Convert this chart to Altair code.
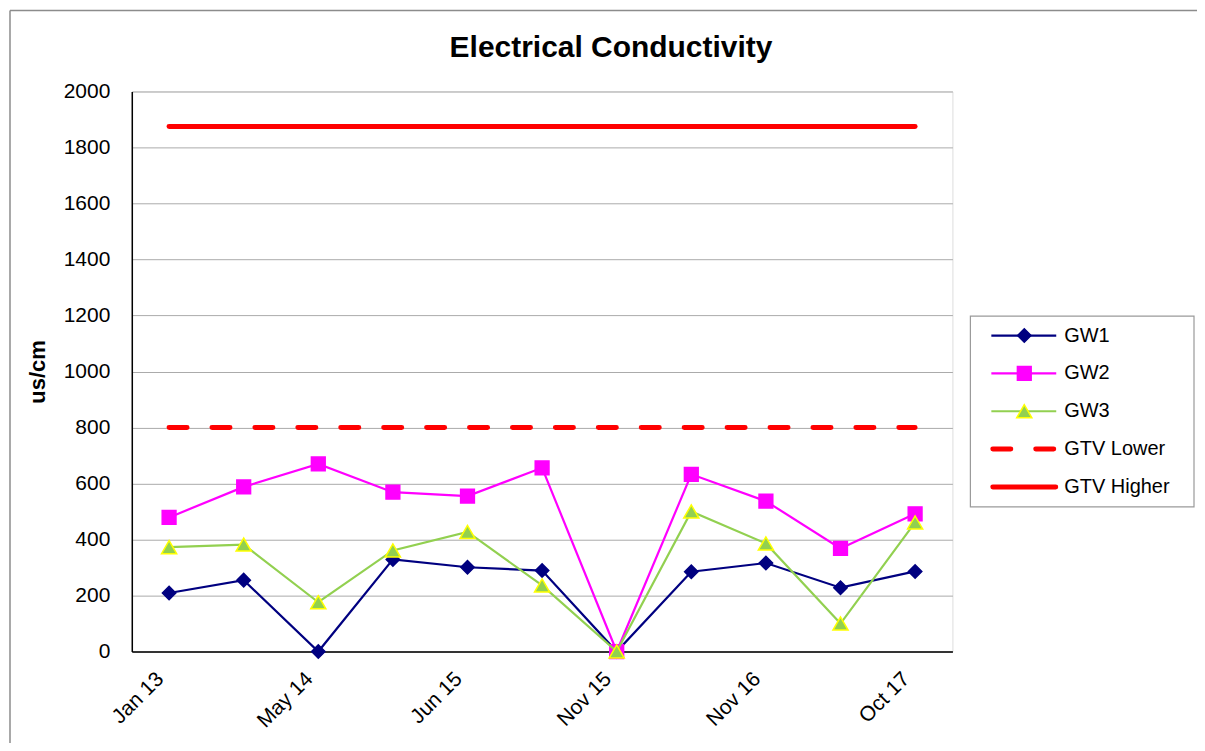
import altair as alt
import pandas as pd

# ---- data ----
CATEGORIES = ["Jan 13", "Sep 13", "May 14", "Nov 14", "Jun 15", "Sep 15",
              "Nov 15", "May 16", "Nov 16", "May 17", "Oct 17"]
SHOWN_LABELS = ["Jan 13", "May 14", "Jun 15", "Nov 15", "Nov 16", "Oct 17"]
GW1 = [209, 255, 0, 329, 301, 289, 0, 285, 316, 228, 286]
GW2 = [479, 588, 670, 569, 555, 656, 0, 633, 537, 368, 492]
GW3 = [373, 382, 176, 361, 427, 236, 0, 500, 386, 100, 461]
GTV_LOWER = 800
GTV_HIGHER = 1875
SERIES = ["GW1", "GW2", "GW3"]
LEGEND_NAMES = ["GW1", "GW2", "GW3", "GTV Lower", "GTV Higher"]
TITLE = "Electrical Conductivity"
Y_TITLE = "us/cm"

LINE_COLORS = ["#000080", "#FF00FF", "#92D050"]
MARK_STROKES = ["#000080", "#FF00FF", "#FFFF00"]
SHAPES = ["diamond", "square", "triangle-up"]
SIZES = [180, 190, 230]
RED = "#FF0000"
FONT = "Liberation Sans"

W, H = 822, 561

rows = []
for name, vals in zip(SERIES, [GW1, GW2, GW3]):
    for c, v in zip(CATEGORIES, vals):
        rows.append({"series": name, "date": c, "value": v})
df = pd.DataFrame(rows)

gtv = pd.DataFrame({
    "date": [CATEGORIES[0], CATEGORIES[-1]] * 2,
    "value": [GTV_LOWER, GTV_LOWER, GTV_HIGHER, GTV_HIGHER],
    "series": ["GTV Lower"] * 2 + ["GTV Higher"] * 2,
})

x_enc = alt.X("date:N", sort=CATEGORIES,
              scale=alt.Scale(type="point", domain=CATEGORIES, padding=0.5),
              axis=alt.Axis(values=SHOWN_LABELS, labelAngle=-45, labelAlign="right",
                            labelBaseline="middle", labelPadding=24, labelOffset=-9,
                            ticks=False, grid=False,
                            domainColor="black", domainWidth=1.5, labelFontSize=21,
                            labelFont=FONT, labelColor="black", title=None))
y_enc = alt.Y("value:Q", scale=alt.Scale(domain=[0, 2000], nice=False),
              axis=alt.Axis(values=list(range(0, 2001, 200)), format="d", ticks=False, grid=True,
                            gridColor="#ABABAB", gridWidth=1, domainColor="black",
                            domainWidth=1.5, labelFontSize=21, labelFont=FONT,
                            labelColor="black", labelPadding=22, title=Y_TITLE,
                            titleFont=FONT, titleFontSize=22, titleFontWeight="bold",
                            titleColor="black", titlePadding=14))

# outer chart-area border (top and left edges; the others fall outside the window)
border_df = pd.DataFrame({"b": [0]})
border_top = alt.Chart(border_df).mark_rule(color="#8C8C8C", strokeWidth=1.5).encode(
    x=alt.value(-122), x2=alt.value(3000), y=alt.value(-81))
border_left = alt.Chart(border_df).mark_rule(color="#8C8C8C", strokeWidth=1.5).encode(
    x=alt.value(-122), y=alt.value(-81), y2=alt.value(3000))

gtv_low = alt.Chart(gtv[gtv.series == "GTV Lower"]).mark_line(
    color=RED, strokeWidth=5, strokeCap="round", strokeDash=[18, 25]
).encode(x=x_enc, y=y_enc)
gtv_high = alt.Chart(gtv[gtv.series == "GTV Higher"]).mark_line(
    color=RED, strokeWidth=5, strokeCap="round"
).encode(x=x_enc, y=y_enc)

layers = [border_top, border_left, gtv_low, gtv_high]
for i, name in enumerate(SERIES):
    sub = df[df.series == name]
    layers.append(alt.Chart(sub).mark_line(color=LINE_COLORS[i], strokeWidth=2.2).encode(x=x_enc, y=y_enc))
    layers.append(alt.Chart(sub).mark_point(
        shape=SHAPES[i], filled=True, fill=LINE_COLORS[i], stroke=MARK_STROKES[i],
        strokeWidth=1.5, size=SIZES[i], opacity=1
    ).encode(x=x_enc, y=y_enc))

# title
layers.append(alt.Chart(pd.DataFrame({"t": [TITLE]})).mark_text(
    font=FONT, fontSize=30, fontWeight="bold", color="black", align="center", baseline="middle"
).encode(text="t:N", x=alt.value(480), y=alt.value(-44)))

# legend box
layers.append(alt.Chart(pd.DataFrame({"b": [0]})).mark_rect(
    fill="white", stroke="#9A9A9A", strokeWidth=1.2
).encode(x=alt.value(840), x2=alt.value(1064), y=alt.value(225), y2=alt.value(416)))

for i, name in enumerate(LEGEND_NAMES):
    yy = 244.5 + i * 37.9
    ld = pd.DataFrame({"name": [name]})
    if i < 3:
        layers.append(alt.Chart(ld).mark_rule(color=LINE_COLORS[i], strokeWidth=2.2).encode(
            x=alt.value(861), x2=alt.value(926), y=alt.value(yy)))
        layers.append(alt.Chart(ld).mark_point(
            shape=SHAPES[i], filled=True, fill=LINE_COLORS[i], stroke=MARK_STROKES[i],
            strokeWidth=1.5, size=SIZES[i], opacity=1
        ).encode(x=alt.value(894), y=alt.value(yy)))
    else:
        kw = dict(color=RED, strokeWidth=5, strokeCap="round")
        if name == "GTV Lower":
            kw["strokeDash"] = [18, 25]
        layers.append(alt.Chart(ld).mark_rule(**kw).encode(
            x=alt.value(862.5), x2=alt.value(925.5), y=alt.value(yy)))
    layers.append(alt.Chart(ld).mark_text(
        font=FONT, fontSize=20, color="black", align="left", baseline="middle"
    ).encode(text="name:N", x=alt.value(934), y=alt.value(yy)))

chart = alt.layer(*layers).properties(
    width=W, height=H,
    autosize=alt.AutoSizeParams(type="none"),
    padding={"left": 124, "top": 83, "right": 245, "bottom": 91},
).configure_view(stroke=None).configure(background="white")

chart.save("out.html", embed_options={"renderer": "svg", "actions": False})
